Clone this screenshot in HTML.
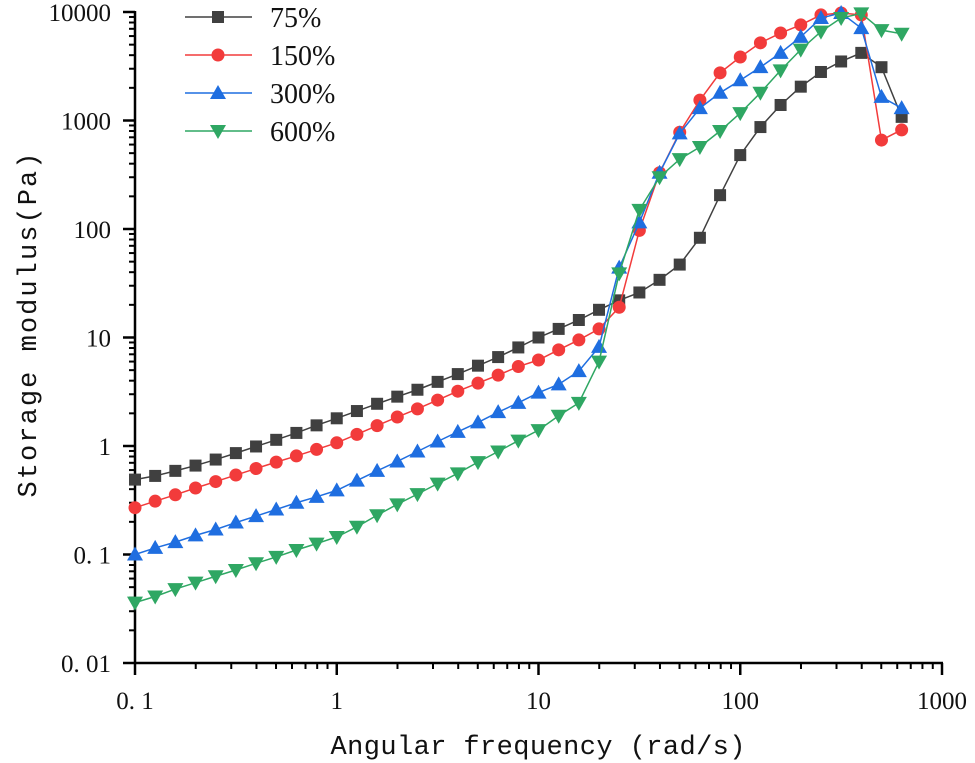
<!DOCTYPE html>
<html><head><meta charset="utf-8"><style>
html,body{margin:0;padding:0;background:#fff;}
svg{display:block;}
text{font-family:"Liberation Serif","Noto Serif CJK SC",serif;fill:#111;}
</style></head><body>
<svg id="chart" width="975" height="763" viewBox="0 0 975 763" xmlns="http://www.w3.org/2000/svg">
<g id="axes"></g>
<g id="series"></g>
<g id="legend"></g>
<text x="538" y="754" text-anchor="middle" font-size="27" textLength="415" style="font-family:'Liberation Mono',monospace">Angular frequency (rad/s)</text>
<text transform="translate(36,325) rotate(-90)" text-anchor="middle" font-size="27" textLength="345" style="font-family:'Liberation Mono',monospace">Storage modulus(Pa)</text>
</svg>
<script>
const xTickValues=[0.1,1,10,100,1000];
const xTickLabels=["0. 1","1","10","100","1000"];
const yTickValues=[0.01,0.1,1,10,100,1000,10000];
const yTickLabels=["0. 01","0. 1","1","10","100","1000","10000"];
const seriesNames=["75%","150%","300%","600%"];
const freqExponents=[0,1,2,3,4,5,6,7,8,9,10,11,12,13,14,15,16,17,18,19,20,21,22,23,24,25,26,27,28,29,30,31,32,33,34,35,36,37,38];
const s75=[0.49,0.53,0.59,0.66,0.75,0.86,0.99,1.14,1.32,1.55,1.8,2.1,2.45,2.85,3.3,3.9,4.6,5.5,6.6,8.1,10,12,14.5,18,22,26,34,47,83,205,480,870,1390,2050,2800,3500,4200,3100,1080];
const s150=[0.27,0.31,0.355,0.41,0.47,0.54,0.62,0.71,0.81,0.93,1.07,1.28,1.54,1.85,2.2,2.65,3.2,3.8,4.5,5.4,6.2,7.7,9.5,12,19,97,330,780,1540,2750,3850,5200,6400,7600,9400,9800,9400,660,820];
const s300=[0.1,0.115,0.13,0.15,0.17,0.197,0.226,0.26,0.3,0.34,0.39,0.48,0.59,0.72,0.89,1.1,1.35,1.65,2.05,2.5,3.1,3.7,4.9,8.2,44,115,330,760,1300,1800,2350,3100,4200,5900,8800,9800,7100,1650,1300];
const s600=[0.036,0.041,0.048,0.055,0.063,0.072,0.083,0.095,0.11,0.126,0.145,0.18,0.23,0.29,0.36,0.45,0.56,0.71,0.89,1.12,1.4,1.9,2.5,6.0,39,150,300,440,570,800,1170,1800,2900,4500,6600,8800,9700,6800,6300];
const seriesColors=["#404040","#f23b3b","#1f6ee0","#2fa763"];
const seriesShapes=["square","circle","up","down"];
const allSeries=[s75,s150,s300,s600];

const NS="http://www.w3.org/2000/svg";
const X0=135,X1=942,Y0=663,Y1=12;
function xs(v){return X0+(Math.log10(v)+1)/4*(X1-X0);}
function ys(v){return Y0-(Math.log10(v)+2)/6*(Y0-Y1);}
function mk(tag,attrs,parent){const e=document.createElementNS(NS,tag);for(const k in attrs)e.setAttribute(k,attrs[k]);parent.appendChild(e);return e;}
const axes=document.getElementById('axes');
let a=mk('line',{x1:X0,y1:Y0,x2:X1+1,y2:Y0,stroke:'#000','stroke-width':2.5},axes);


a=mk('line',{x1:X0,y1:Y0+1,x2:X0,y2:Y1-1,stroke:'#000','stroke-width':2.5},axes);


for(let d=-1;d<3;d++){for(let m=2;m<10;m++){const x=xs(m*Math.pow(10,d));const t=mk('line',{x1:x,y1:Y0,x2:x,y2:Y0+6,stroke:'#000','stroke-width':2},axes);

}}
for(let d=-2;d<4;d++){for(let m=2;m<10;m++){const y=ys(m*Math.pow(10,d));const t=mk('line',{x1:X0-6,y1:y,x2:X0,y2:y,stroke:'#000','stroke-width':2},axes);

}}
xTickValues.forEach((v,i)=>{const x=xs(v);const t=mk('line',{x1:x,y1:Y0,x2:x,y2:Y0+12,stroke:'#000','stroke-width':2.5},axes);


const l=mk('text',{x:x,y:Y0+46,'text-anchor':'middle','font-size':25},axes);l.textContent=xTickLabels[i];

});
yTickValues.forEach((v,i)=>{const y=ys(v);const t=mk('line',{x1:X0-12,y1:y,x2:X0,y2:y,stroke:'#000','stroke-width':2.5},axes);


const l=mk('text',{x:X0-24,y:y+9,'text-anchor':'end','font-size':25},axes);l.textContent=yTickLabels[i];

});
function marker(shape,x,y,color,parent){let e;
 if(shape==='square')e=mk('rect',{x:x-6,y:y-6,width:12,height:12,fill:color},parent);
 else if(shape==='circle')e=mk('circle',{cx:x,cy:y,r:6.5,fill:color},parent);
 else if(shape==='up')e=mk('polygon',{points:`${x},${y-8} ${x-8},${y+6} ${x+8},${y+6}`,fill:color},parent);
 else e=mk('polygon',{points:`${x},${y+8} ${x-8},${y-6} ${x+8},${y-6}`,fill:color},parent);
 return e;}
const sg=document.getElementById('series');
allSeries.forEach((vals,si)=>{
 const g=mk('g',{},sg);
 
 
 const pts=freqExponents.map((e,i)=>[xs(0.1*Math.pow(10,e/10)),ys(vals[i])]);
 const pl=mk('polyline',{points:pts.map(p=>p.join(',')).join(' '),fill:'none',stroke:seriesColors[si],'stroke-width':1.5},g);
 
 
 pts.forEach(p=>{const m=marker(seriesShapes[si],p[0],p[1],seriesColors[si],g);
 
 });
});
const lg=document.getElementById('legend');
seriesNames.forEach((n,i)=>{const y=17+i*38;
 const g=mk('g',{},lg);
 
 
 mk('line',{x1:185,y1:y,x2:252,y2:y,stroke:seriesColors[i],'stroke-width':1.5},g);
 marker(seriesShapes[i],218,y,seriesColors[i],g);
 const t=mk('text',{x:270,y:y+10,'font-size':28},g);t.textContent=n;});
</script>
</body></html>
